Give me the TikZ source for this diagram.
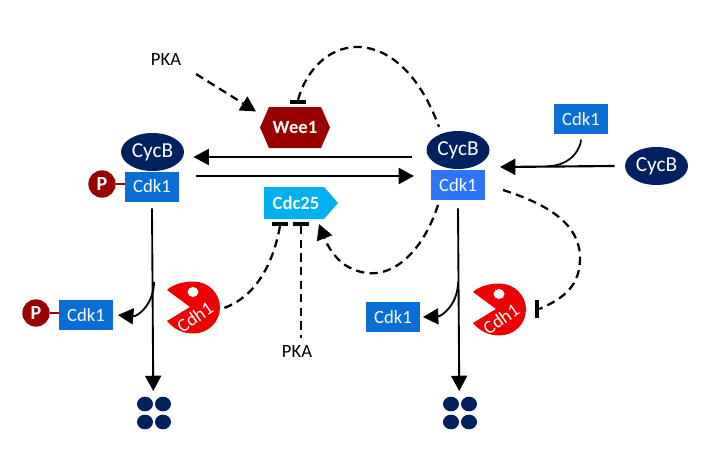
\documentclass[tikz,border=0pt]{standalone}
\usepackage{fontspec}
\setmainfont{Carlito}
\usetikzlibrary{arrows.meta,shapes.geometric}
\definecolor{navy}{HTML}{002060}
\definecolor{cdkblue}{HTML}{0A6ED6}
\definecolor{cdklight}{HTML}{2E75F6}
\definecolor{darkred}{HTML}{990000}
\definecolor{pacred}{HTML}{EE0000}
\definecolor{cdcblue}{HTML}{00B0F0}
\tikzset{
  cyc/.style={ellipse,fill=navy,text=white,inner sep=0pt,minimum width=47.25pt,minimum height=28.5pt,font=\fontsize{16}{16}\selectfont},
  cdk/.style={rectangle,fill=#1,text=white,inner sep=0pt,minimum width=40.5pt,minimum height=22.5pt,font=\fontsize{14}{14}\selectfont},
  cdk/.default=cdkblue,
  phos/.style={circle,fill=darkred,text=white,inner sep=0pt,minimum size=20.5pt,font=\fontsize{15}{15}\selectfont\bfseries},
  plink/.style={draw=darkred,line width=1.7pt},
  lab/.style={inner sep=0pt,font=\fontsize{14}{14}\selectfont},
  reg/.style={text=white,inner sep=0pt,font=\fontsize{14}{14}\selectfont\bfseries},
  tbar/.style={rectangle,fill=black,inner sep=0pt,minimum width=12pt,minimum height=2.8pt},
  solidarrow/.style={line width=1.6pt,-{Triangle[length=11.5pt,width=12pt]}},
  thinarrow/.style={line width=1.4pt,-{Triangle[length=11.5pt,width=12pt]}},
  dashflow/.style={line width=1.7pt,dash pattern=on 6.2pt off 4pt},
  dashflowtip/.style={dashflow,-{Triangle[length=11.5pt,width=12pt]}},
  dotcell/.style={ellipse,fill=navy,inner sep=0pt,minimum width=12pt,minimum height=11pt},
  pactext/.style={rotate=35,text=white,inner sep=0pt,font=\fontsize{14}{14}\selectfont},
  pacbody/.style={fill=pacred,draw=none},
}
\newcommand{\pacshape}[2]{%
  \begin{scope}[shift={(#1,#2)}]
    \fill[pacbody] (190,307) -- (167,290) .. controls (172,285) and (182,281.5) .. (193.5,281.5)
      .. controls (208,281.5) and (220,293) .. (220,307.5)
      .. controls (220,322) and (208,333.5) .. (193.5,333.5)
      .. controls (182,333.5) and (174,329) .. (167,321) -- cycle;
    \fill[white] (193,292) ellipse (5.5 and 5);
  \end{scope}}
\begin{document}
\begin{tikzpicture}[x=0.75pt,y=-0.75pt]
\useasboundingbox (0,0) rectangle (715,464);
% left complex
\node[cyc] (cycL) at (152.5,152) {CycB};
\node[cdk] (cdkL) at (152,186.5) {Cdk1};
\node[phos] (pL) at (102,184) {P};
\draw[plink] (pL.east) -- (pL.east -| cdkL.west);
% lower-left Cdk1
\node[cdk] (cdkLL) at (86,315) {Cdk1};
\node[phos] (pLL) at (36,313) {P};
\draw[plink] (pLL.east) -- (pLL.east -| cdkLL.west);
% right complex
\node[cyc] (cycR) at (458,150) {CycB};
\node[cdk=cdklight] (cdkR) at (458,185) {Cdk1};
% far right
\node[cyc] (cycF) at (656.5,166) {CycB};
\node[cdk] (cdkT) at (581,119) {Cdk1};
% lower right Cdk1
\node[cdk] (cdkLR) at (393,317) {Cdk1};
% regulators
\fill[darkred] (260,127.5) -- (269,107) -- (321,107) -- (330,127.5) -- (321,148) -- (269,148) -- cycle;
\node[reg] (wee) at (295,127.5) {Wee1};
\fill[cdcblue] (264,187) -- (324,187) -- (338,203) -- (324,219) -- (264,219) -- cycle;
\node[reg] (cdc) at (296,203) {Cdc25};
\node[lab] (pkaT) at (166,60) {PKA};
\node[lab] (pkaB) at (297,352) {PKA};
% Cdh1
\pacshape{0}{0}
\pacshape{306}{2}
\node[pactext] (cdhL) at (195,317) {Cdh1};
\node[pactext] (cdhR) at (501,319) {Cdh1};
% bars
\node[tbar] (barW) at (298,102) {};
\node[tbar] (barC1) at (280,224) {};
\node[tbar] (barC2) at (301,224) {};
\node[rectangle,fill=black,inner sep=0pt,minimum width=3pt,minimum height=13.5pt] (barH) at (537,309) {};
% dots
\foreach \n/\x/\y in {a/145/404,b/163/404,c/145/422,d/163/422}{\node[dotcell] (dL\n) at (\x,\y) {};}
\foreach \n/\x/\y in {a/451/404,b/469/404,c/451/422,d/469/422}{\node[dotcell] (dR\n) at (\x,\y) {};}
% solid connectors
\draw[solidarrow] ([shift={(-46,7)}]cycR.center) -- ([shift={(41,5)}]cycL.center);
\draw[solidarrow] ([shift={(44,-10.5)}]cdkL.center) -- ([shift={(-44,-9)}]cdkR.center);
\draw[solidarrow] ([xshift=-7.5pt]cycF.west) -- ([shift={(42,17)}]cycR.center);
\draw[line width=1.3pt] ([yshift=-4pt]cdkT.south) .. controls ([shift={(0,12)}]cdkT.south) and ([shift={(-8,32)}]cdkT.south) .. ([shift={(-35,32)}]cdkT.south);
\draw[thinarrow] ([yshift=-5pt]cdkL.south) -- ([yshift=4pt]dLa.north -| dLa.east);
\draw[thinarrow] ([yshift=-6pt]cdkR.south) -- ([yshift=4pt]dRa.north -| dRa.east);
\draw[thinarrow] ([shift={(2,80)}]cdkL.south) .. controls ([shift={(2,102)}]cdkL.south) and ([shift={(-14,115)}]cdkL.south) .. ([shift={(32,0)}]cdkLL.center);
\draw[thinarrow] ([shift={(0,82)}]cdkR.south) .. controls ([shift={(0,104)}]cdkR.south) and ([shift={(-16,116)}]cdkR.south) .. ([shift={(30,0)}]cdkLR.center);
% dashed connectors
\draw[dashflowtip] ([shift={(30,14)}]pkaT.center) -- ([shift={(-39,-16)}]wee.center);
\draw[dashflow] (barW.north) .. controls (318,30) and (400,20) .. ([shift={(-19,-23)}]cycR.center);
\draw[dashflow] (barC1.south) .. controls (272,270) and (252,298) .. ([shift={(29,-9)}]cdhL.center);
\draw[dashflow] (barC2.south) -- ([yshift=6pt]pkaB.north -| barC2.south);
\draw[dashflowtip] ([shift={(-20,20)}]cdkR.center) .. controls (422,255) and (385,290) .. (345,265) .. controls (335,258) and (328,247) .. ([shift={(23,21)}]cdc.center);
\draw[dashflow] ([shift={(45,5)}]cdkR.center) .. controls (550,205) and (580,225) .. (580,258) .. controls (580,285) and (565,298) .. (barH.east);
\end{tikzpicture}
\end{document}
